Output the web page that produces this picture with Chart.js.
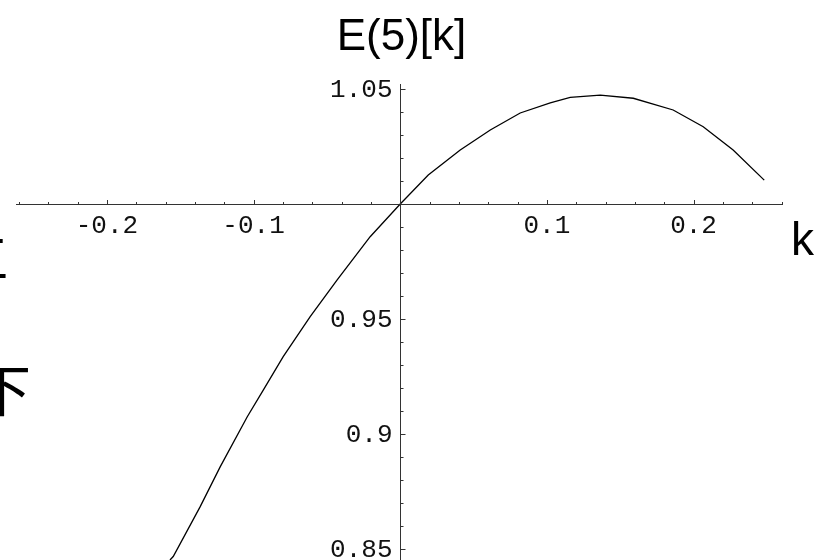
<!DOCTYPE html>
<html>
<head>
<meta charset="utf-8">
<script src="https://cdn.jsdelivr.net/npm/chart.js@4"></script>
<style>
  html, body { margin: 0; padding: 0; background: #fff; }
  #wrap { width: 828px; height: 560px; position: relative; }
</style>
</head>
<body>
<div id="wrap"><canvas id="plot"></canvas></div>
<script>
// E(5)[k] sampled along k
const kVals = [-0.157, -0.1548, -0.1364, -0.1227, -0.1043, -0.0934, -0.0798, -0.0614, -0.043, -0.0205, 0,
  0.0191, 0.0409, 0.0614, 0.0818, 0.1023, 0.1159, 0.1364, 0.1589, 0.1861, 0.2066, 0.227, 0.2482];
const eVals = [0.8452, 0.8467, 0.8684, 0.8858, 0.9075, 0.9191, 0.9336, 0.951, 0.967, 0.9858, 1.0,
  1.0126, 1.0235, 1.0322, 1.0396, 1.044, 1.0464, 1.0474, 1.046, 1.0409, 1.0336, 1.0235, 1.0104];

const xTicks = [-0.2, -0.1, 0.1, 0.2];
const xTickLabels = ['-0.2', '-0.1', '0.1', '0.2'];
const yTicks = [0.85, 0.9, 0.95, 1.05];
const yTickLabels = ['0.85', '0.9', '0.95', '1.05'];

const title = 'E(5)[k]';
const xName = 'k';

const points = kVals.map((k, i) => ({ x: k, y: eVals[i] }));

// axes crossing at (0, 1) with ticks on the inner side
const originAxes = {
  id: 'originAxes',
  afterDatasetsDraw(chart) {
    const { ctx, chartArea, scales: { x, y } } = chart;
    const x0 = Math.round(x.getPixelForValue(0)) + 0.5;
    const y0 = Math.round(y.getPixelForValue(1)) + 0.5;
    ctx.save();
    ctx.strokeStyle = '#333';
    ctx.lineWidth = 1;
    ctx.beginPath();
    ctx.moveTo(chartArea.left, y0);
    ctx.lineTo(chartArea.right, y0);
    ctx.moveTo(x0, chartArea.top);
    ctx.lineTo(x0, chartArea.bottom);

    // minor ticks every 0.02 on k, 0.01 on E
    for (let i = -13; i <= 13; i++) {
      const px = Math.round(x.getPixelForValue(i * 0.02)) + 0.5;
      ctx.moveTo(px, y0);
      ctx.lineTo(px, y0 - 2.5);
    }
    for (let j = 85; j <= 105; j++) {
      const py = Math.round(y.getPixelForValue(j / 100)) + 0.5;
      ctx.moveTo(x0, py);
      ctx.lineTo(x0 + 3, py);
    }
    xTicks.forEach(v => {
      const px = Math.round(x.getPixelForValue(v)) + 0.5;
      ctx.moveTo(px, y0);
      ctx.lineTo(px, y0 - 4.5);
    });
    yTicks.forEach(v => {
      const py = Math.round(y.getPixelForValue(v)) + 0.5;
      ctx.moveTo(x0, py);
      ctx.lineTo(x0 + 5, py);
    });
    ctx.stroke();

    ctx.fillStyle = '#111';
    ctx.font = '26px "Liberation Mono", monospace';
    ctx.textAlign = 'center';
    ctx.textBaseline = 'top';
    xTicks.forEach((v, i) => {
      ctx.fillText(xTickLabels[i], x.getPixelForValue(v), y0 + 9);
    });
    ctx.textAlign = 'right';
    ctx.textBaseline = 'middle';
    yTicks.forEach((v, i) => {
      ctx.fillText(yTickLabels[i], x0 - 8, y.getPixelForValue(v) + 1);
    });

    // title centred over the plot range
    ctx.fillStyle = '#000';
    ctx.font = '44px "Liberation Sans", Arial, sans-serif';
    ctx.textAlign = 'center';
    ctx.textBaseline = 'alphabetic';
    ctx.fillText(title, (chartArea.left + chartArea.right) / 2 + 2, 50);
    ctx.font = '46px "Liberation Sans", Arial, sans-serif';
    ctx.textAlign = 'left';
    ctx.fillText(xName, 791, 255);

    // side caption, mostly cut off at the left edge
    ctx.font = '52px "Noto Sans CJK SC", sans-serif';
    ctx.textAlign = 'center';
    ctx.fillText('三', -17, 278);
    ctx.font = '56px "Noto Sans CJK SC", sans-serif';
    ctx.fillText('下', 3, 411);
    ctx.restore();
  }
};

new Chart(document.getElementById('plot'), {
  type: 'scatter',
  data: {
    datasets: [{
      data: points,
      showLine: true,
      borderColor: '#000',
      borderWidth: 1.3,
      pointRadius: 0,
      tension: 0
    }]
  },
  options: {
    responsive: true,
    maintainAspectRatio: false,
    animation: false,
    layout: { padding: { left: 16, right: 45, top: 84, bottom: 0 } },
    plugins: { legend: { display: false }, tooltip: { enabled: false } },
    scales: {
      x: { type: 'linear', min: -0.262, max: 0.261, display: false },
      y: { type: 'linear', min: 0.8452, max: 1.0522, display: false }
    }
  },
  plugins: [originAxes]
});
</script>
</body>
</html>
